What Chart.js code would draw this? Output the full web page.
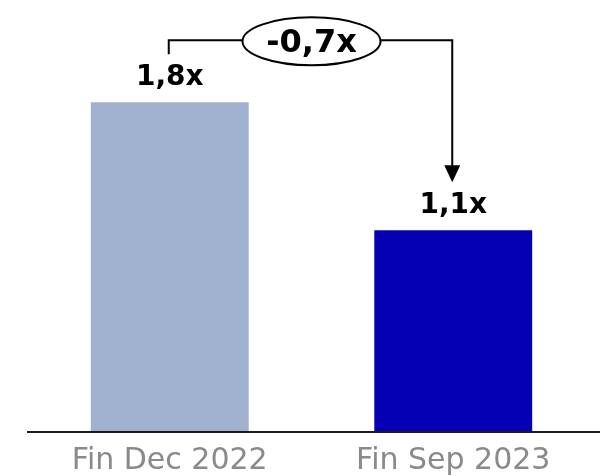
<!DOCTYPE html>
<html>
<head>
<meta charset="utf-8">
<script src="https://cdn.jsdelivr.net/npm/chart.js@4/dist/chart.umd.min.js"></script>
<style>
  html, body { margin: 0; padding: 0; background: #ffffff; }
  #wrap { width: 600px; height: 476px; position: relative; }
</style>
</head>
<body>
<div id="wrap"><canvas id="c" width="600" height="476"></canvas></div>
<script>
const categories = ['Fin Dec 2022', 'Fin Sep 2023'];
const values = [1.8, 1.1];
const barColors = ['#9fb1cf', '#0600b4'];

function fmt(v) { return v.toFixed(1).replace('.', ',') + 'x'; }

const overlay = {
  id: 'overlay',
  afterDatasetsDraw(chart) {
    const ctx = chart.ctx;
    const meta = chart.getDatasetMeta(0);
    const yScale = chart.scales.y;
    const area = chart.chartArea;
    const b1 = meta.data[0], b2 = meta.data[1];
    ctx.save();
    // baseline axis line
    const y0 = yScale.getPixelForValue(0);
    ctx.strokeStyle = '#1a1a1a';
    ctx.lineWidth = 2;
    ctx.beginPath();
    ctx.moveTo(area.left - 1, y0 + 1);
    ctx.lineTo(chart.width, y0 + 1);
    ctx.stroke();

    // value labels
    ctx.fillStyle = '#000000';
    ctx.font = 'bold 28px "DejaVu Sans"';
    ctx.textAlign = 'center';
    ctx.textBaseline = 'alphabetic';
    meta.data.forEach((bar, i) => {
      ctx.fillText(fmt(values[i]), bar.x, bar.y - 17);
    });

    // bracket arrow
    const topY = b1.y - 62;
    const leftBottom = b1.y - 48;
    const tipY = b2.y - 48;
    ctx.strokeStyle = '#000000';
    ctx.lineWidth = 2;
    ctx.beginPath();
    ctx.moveTo(b1.x - 1, leftBottom);
    ctx.lineTo(b1.x - 1, topY);
    ctx.lineTo(b2.x - 1, topY);
    ctx.lineTo(b2.x - 1, tipY - 16);
    ctx.stroke();
    ctx.fillStyle = '#000000';
    ctx.beginPath();
    ctx.moveTo(b2.x - 9, tipY - 17);
    ctx.lineTo(b2.x + 7, tipY - 17);
    ctx.lineTo(b2.x - 1, tipY);
    ctx.closePath();
    ctx.fill();

    // ellipse with difference
    const cx = (b1.x + b2.x) / 2;
    ctx.beginPath();
    ctx.ellipse(cx, topY + 1, 69, 24, 0, 0, Math.PI * 2);
    ctx.fillStyle = '#ffffff';
    ctx.fill();
    ctx.lineWidth = 2;
    ctx.strokeStyle = '#000000';
    ctx.stroke();
    ctx.fillStyle = '#000000';
    ctx.font = 'bold 32px "DejaVu Sans"';
    ctx.textAlign = 'center';
    ctx.textBaseline = 'middle';
    ctx.fillText(fmt(values[1] - values[0]), cx, topY + 3);
    ctx.restore();
  }
};

new Chart(document.getElementById('c'), {
  type: 'bar',
  data: {
    labels: categories,
    datasets: [{
      data: values,
      backgroundColor: barColors,
      borderWidth: 0,
      categoryPercentage: 1.0,
      barPercentage: 0.557
    }]
  },
  options: {
    responsive: false,
    animation: false,
    devicePixelRatio: 1,
    layout: { padding: { left: 28, right: 5, top: 11, bottom: 0 } },
    plugins: { legend: { display: false }, tooltip: { enabled: false } },
    scales: {
      y: {
        display: false,
        min: 0,
        max: 2.3
      },
      x: {
        grid: { display: false, drawTicks: false },
        border: { display: false },
        afterFit(scale) { scale.height = 45; },
        ticks: {
          color: '#8a8a8a',
          padding: 12,
          font: { family: '"DejaVu Sans"', size: 30 }
        }
      }
    }
  },
  plugins: [overlay]
});
</script>
</body>
</html>
